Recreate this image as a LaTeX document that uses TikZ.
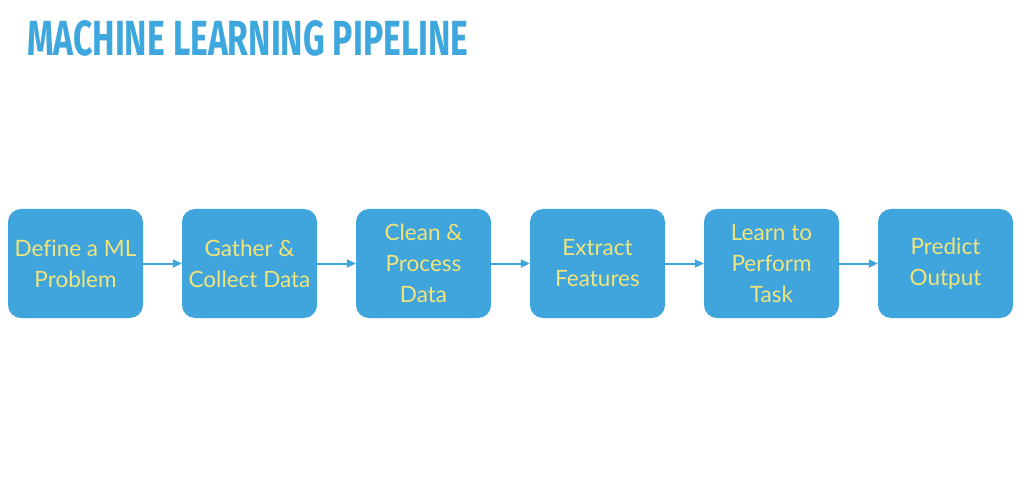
\documentclass[tikz,border=0pt]{standalone}
\usepackage{fontspec}
\setmainfont[Ligatures=NoCommon]{Lato}
\newfontfamily\titlefont{Fira Sans}
\usetikzlibrary{arrows.meta}
\definecolor{boxblue}{RGB}{64,165,221}
\definecolor{titleblue}{RGB}{62,168,222}
\definecolor{txtyellow}{RGB}{240,228,122}
\tikzset{
  stepbox/.style={fill=boxblue, draw=none, rounded corners=13pt, minimum width=135pt, minimum height=109pt, inner sep=0pt, align=center, text=txtyellow, font=\fontsize{22.5}{31}\selectfont},
  flow/.style={draw=boxblue, line width=2pt, -{Triangle[length=9pt,width=8pt]}}
}
\begin{document}
\begin{tikzpicture}[x=1pt,y=-1pt]
\useasboundingbox (0,0) rectangle (1024,478);
\fill[white] (0,0) rectangle (1024,478);
\node[anchor=south west, inner sep=0pt, text=titleblue] (title) at (27,57) {\resizebox{441pt}{35pt}{\titlefont\bfseries MACHINE LEARNING PIPELINE}};
\node[stepbox] (s1) at (75.5,263.5) {Define a ML\\Problem};
\node[stepbox] (s2) at (249.5,263.5) {Gather \&\\Collect Data};
\node[stepbox] (s3) at (423.5,263.5) {Clean \&\\Process\\Data};
\node[stepbox] (s4) at (597.5,263.5) {Extract\\Features};
\node[stepbox] (s5) at (771.5,263.5) {Learn to\\Perform\\Task};
\node[stepbox] (s6) at (945.5,263.5) {Predict\\Output};
\draw[flow] (s1) -- (s2);
\draw[flow] (s2) -- (s3);
\draw[flow] (s3) -- (s4);
\draw[flow] (s4) -- (s5);
\draw[flow] (s5) -- (s6);
\end{tikzpicture}
\end{document}
